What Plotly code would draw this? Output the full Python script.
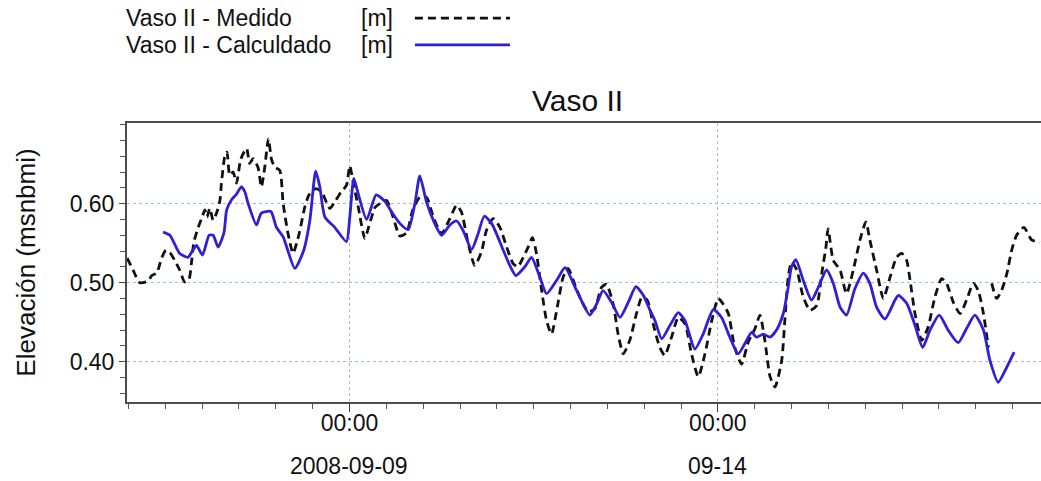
import pandas as pd
import plotly.graph_objects as go

# hours after 2008-09-06 00:00
t0 = pd.Timestamp("2008-09-06 00:00")

medido_h = [-0.4, 1.5, 3.7, 6.4, 7.6, 9.2, 10.8, 12.2, 13.5, 15.1, 16.7, 18.3, 19.7, 20.5, 21.3, 22.4, 23.2, 24.2, 24.9, 25.6,
            26.5, 27.6, 28.7, 29.8, 30.3, 31.4, 32.1, 33.0, 34.1, 35.2, 36.5, 37.6, 38.5, 39.5, 40.6, 42.2, 43.3, 44.4, 45.6, 46.6,
            47.7, 49.3, 50.4, 52.0, 53.6, 54.8, 55.8, 57.4, 58.8, 61.0, 62.9, 65.6, 67.5, 69.3, 71.0, 72.1, 73.2, 74.8, 77.0, 78.3,
            80.3, 81.9, 84.1, 86.2, 88.4, 90.6, 92.6, 94.9, 97.1, 99.3, 102.0, 104.7, 106.9, 108.5, 110.7, 112.8, 115.0, 116.6, 118.8, 121.0,
            123.2, 125.3, 126.8, 128.1, 130.2, 131.6, 132.9, 134.6, 136.2, 137.8, 139.5, 141.6, 143.2, 144.9, 147.0, 149.8, 151.9, 154.1, 155.7, 157.9,
            159.5, 161.2, 163.3, 165.5, 167.2, 169.0, 170.9, 173.1, 174.7, 176.9, 179.1, 181.3, 183.4, 185.6, 187.8, 190.0, 192.1, 193.7, 195.4, 197.5,
            199.7, 201.9, 204.1, 205.7, 207.3, 209.0, 210.6, 212.8, 213.8, 214.9, 216.0, 217.7, 219.8, 222.0, 224.2, 225.8, 227.2, 227.9, 229.6, 231.8,
            233.9, 236.1, 238.3, 240.2, 241.5, 243.7, 245.9, 248.1, 250.2, 251.9, 253.5, 254.6, 256.2, 258.4, 260.5, 262.7, 264.9, 266.5, 268.7, 270.9,
            273.0, 275.2, 276.8, 278.5, 280.1, 280.6, 281.2, 282.8, 284.4, 286.1, 287.7, 289.3, 291.7, 294.2, 296.9]
medido = [0.531, 0.516, 0.500, 0.502, 0.509, 0.512, 0.531, 0.541, 0.538, 0.528, 0.516, 0.501, 0.504, 0.524, 0.551, 0.566, 0.575, 0.585, 0.592, 0.583,
          0.594, 0.579, 0.588, 0.604, 0.626, 0.660, 0.665, 0.636, 0.640, 0.626, 0.655, 0.665, 0.670, 0.651, 0.657, 0.646, 0.621, 0.646, 0.682, 0.656,
          0.646, 0.642, 0.600, 0.562, 0.537, 0.550, 0.565, 0.595, 0.611, 0.619, 0.615, 0.594, 0.604, 0.615, 0.623, 0.648, 0.627, 0.597, 0.556, 0.571,
          0.595, 0.600, 0.604, 0.583, 0.559, 0.563, 0.592, 0.608, 0.608, 0.583, 0.562, 0.581, 0.598, 0.589, 0.549, 0.522, 0.539, 0.566, 0.581, 0.570,
          0.545, 0.524, 0.520, 0.528, 0.545, 0.557, 0.537, 0.490, 0.452, 0.435, 0.465, 0.507, 0.518, 0.503, 0.482, 0.463, 0.467, 0.494, 0.498, 0.473,
          0.435, 0.410, 0.427, 0.461, 0.481, 0.478, 0.448, 0.418, 0.408, 0.431, 0.456, 0.448, 0.410, 0.381, 0.410, 0.452, 0.480, 0.473, 0.461, 0.418,
          0.397, 0.425, 0.442, 0.459, 0.427, 0.381, 0.368, 0.402, 0.452, 0.507, 0.526, 0.516, 0.482, 0.465, 0.471, 0.511, 0.545, 0.568, 0.528, 0.516,
          0.486, 0.516, 0.554, 0.577, 0.554, 0.516, 0.480, 0.507, 0.532, 0.537, 0.528, 0.503, 0.461, 0.427, 0.444, 0.482, 0.505, 0.499, 0.475, 0.461,
          0.478, 0.499, 0.490, 0.461, 0.418, None, 0.499, 0.480, 0.490, 0.511, 0.541, 0.560, 0.570, 0.554, 0.551]

calc_h = [11.3, 13.5, 16.7, 19.4, 20.5, 22.2, 24.1, 26.3, 27.6, 29.2, 31.1, 32.0, 33.6, 35.0, 36.8, 37.9, 39.0, 41.7, 43.3, 46.4,
          48.2, 50.4, 54.2, 57.1, 59.1, 61.0, 62.3, 64.0, 67.2, 71.0, 72.1, 73.4, 74.4, 77.6, 80.7, 83.5, 85.8, 88.4, 91.1, 93.3,
          94.9, 97.1, 99.3, 102.0, 104.7, 106.9, 109.0, 111.8, 113.9, 115.9, 118.3, 122.1, 124.2, 126.2, 129.1, 131.3, 134.0, 136.2, 139.5, 142.2,
          146.0, 150.3, 152.5, 154.6, 157.4, 160.1, 162.8, 165.3, 167.7, 169.9, 171.5, 173.7, 176.4, 179.1, 181.3, 184.5, 187.2, 190.5, 193.2, 195.9,
          198.6, 200.8, 203.0, 204.6, 206.8, 209.0, 211.1, 213.3, 214.9, 216.0, 217.4, 219.8, 222.5, 224.7, 227.4, 229.6, 231.8, 233.9, 236.6, 239.4,
          241.5, 243.7, 246.4, 249.7, 250.8, 253.5, 256.2, 258.7, 261.1, 264.1, 267.0, 270.3, 273.0, 275.7, 278.5, 280.6, 283.3, 286.1, 288.5]
calculado = [0.564, 0.560, 0.537, 0.532, 0.538, 0.547, 0.535, 0.560, 0.560, 0.545, 0.563, 0.592, 0.605, 0.611, 0.621, 0.615, 0.600, 0.573, 0.588, 0.590,
             0.570, 0.558, 0.518, 0.541, 0.579, 0.641, 0.622, 0.583, 0.570, 0.552, 0.583, 0.632, 0.619, 0.580, 0.611, 0.603, 0.589, 0.575, 0.567, 0.600,
             0.635, 0.602, 0.579, 0.560, 0.573, 0.578, 0.566, 0.542, 0.562, 0.584, 0.575, 0.541, 0.522, 0.509, 0.520, 0.532, 0.507, 0.486, 0.503, 0.519,
             0.490, 0.459, 0.473, 0.490, 0.475, 0.456, 0.475, 0.495, 0.484, 0.465, 0.452, 0.429, 0.446, 0.462, 0.452, 0.416, 0.435, 0.466, 0.456, 0.431,
             0.410, 0.423, 0.437, 0.431, 0.435, 0.431, 0.440, 0.461, 0.494, 0.520, 0.529, 0.503, 0.478, 0.494, 0.516, 0.499, 0.469, 0.459, 0.492, 0.512,
             0.499, 0.469, 0.454, 0.478, 0.484, 0.474, 0.446, 0.418, 0.440, 0.459, 0.440, 0.424, 0.442, 0.459, 0.440, 0.402, 0.374, 0.393, 0.412]

tick_dates = ["2008-09-09", "2008-09-14"]
tick_hours = ["00:00", "00:00"]
tick_days = ["2008-09-09", "09-14"]

FONT = "Liberation Sans, Arial, sans-serif"
BLUE = "#2f1fd6"
GRID = "#a3bccf"

medido_t = t0 + pd.to_timedelta(medido_h, unit="h")
calc_t = t0 + pd.to_timedelta(calc_h, unit="h")

fig = go.Figure()
fig.add_trace(go.Scatter(x=medido_t, y=medido,
                         mode="lines",
                         name="Vaso II - Medido [m]",
                         line=dict(color="#111111", width=2.8, dash="8px,5px",
                                   shape="spline", smoothing=0.6),
                         ))
fig.add_trace(go.Scatter(x=calc_t, y=calculado,
                         mode="lines",
                         name="Vaso II - Calculdado [m]",
                         line=dict(color=BLUE, width=2.8, shape="spline", smoothing=0.6),
                         ))

fig.update_layout(
    width=1041, height=481,
    margin=dict(l=127, r=0, t=123, b=79),
    paper_bgcolor="white", plot_bgcolor="white",
    showlegend=False,
    font=dict(family=FONT, color="#111111"),
    title=dict(text="Vaso II", x=0.493, xref="paper", xanchor="center",
               y=1 - 100 / 481, yref="container", yanchor="middle",
               font=dict(size=30, family=FONT, color="#111111")),
)

fig.update_xaxes(
    type="date", automargin=False,
    range=["2008-09-05 23:32", "2008-09-18 09:15"],
    tickmode="array", tickvals=tick_dates, ticktext=tick_hours,
    tickfont=dict(size=23), ticklabelstandoff=-9,
    ticks="outside", ticklen=8, tickcolor="#444444",
    showline=True, linecolor="#4d4d4d", linewidth=2, mirror=True,
    showgrid=True, gridcolor=GRID, griddash="dot", gridwidth=1,
    minor=dict(tick0="2008-09-09", dtick=12 * 3600 * 1000, ticks="outside",
               ticklen=5, tickcolor="#555555", showgrid=False),
    zeroline=False,
)
fig.update_yaxes(
    automargin=False,
    range=[0.349, 0.702],
    tickvals=[0.40, 0.50, 0.60], tickformat=".2f",
    tickfont=dict(size=23),
    ticks="outside", ticklen=6, tickcolor="#444444",
    showline=True, linecolor="#4d4d4d", linewidth=2, mirror=True,
    showgrid=True, gridcolor=GRID, griddash="dot", gridwidth=1,
    minor=dict(dtick=0.02, tick0=0.0, ticks="outside", ticklen=5,
               tickcolor="#555555", showgrid=False),
    title=dict(text="Elevación (msnbmi)", font=dict(size=26), standoff=27),
    zeroline=False,
)

# second row of the date labels
for d, lab in zip(tick_dates, tick_days):
    fig.add_annotation(x=d, xref="x", y=0, yref="paper", text=lab,
                       showarrow=False, yanchor="middle", yshift=-64,
                       font=dict(size=23, family=FONT, color="#111111"))

# legend drawn by hand (sample line on the right of the text)
legend_rows = [("Vaso II - Medido", 1.376, dict(color="#111111", width=2.8, dash="8px,5px")),
               ("Vaso II - Calculdado", 1.280, dict(color=BLUE, width=2.8))]
for label, yp, ln in legend_rows:
    fig.add_annotation(x=-0.003, xref="paper", y=yp, yref="paper", text=label,
                       showarrow=False, xanchor="left", yanchor="middle",
                       font=dict(size=23, family=FONT, color="#111111"))
    fig.add_annotation(x=0.254, xref="paper", y=yp, yref="paper", text="[m]",
                       showarrow=False, xanchor="left", yanchor="middle",
                       font=dict(size=23, family=FONT, color="#111111"))
    fig.add_shape(type="line", xref="paper", yref="paper",
                  x0=0.315, x1=0.419, y0=yp, y1=yp, line=ln)

# page body has a default 8px margin; drop it so the figure fills the window
fig.write_html("out.html", config={"displayModeBar": False},
               post_script="document.body.style.margin='0';")
